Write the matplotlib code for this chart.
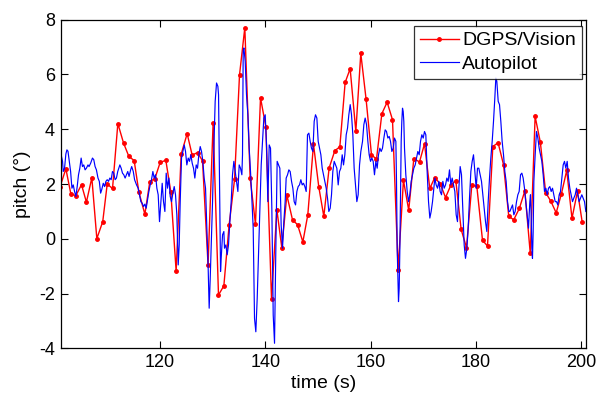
import matplotlib
matplotlib.use("Agg")
import matplotlib.pyplot as plt

plt.rcParams['font.family'] = ['Liberation Sans', 'DejaVu Sans']

# DGPS/Vision (red, markers)
red_t = [101.0, 102.1, 103.05, 104.0, 105.07, 106.0, 107.03, 107.98, 109.1, 109.95,
         110.96, 111.97, 113.05, 114.06, 115.07, 115.96, 117.1, 118.04, 119.0, 120.0,
         121.08, 122.03, 123.04, 123.99, 125.13, 126.08, 127.1, 128.05, 129.1, 130.06,
         131.08, 132.1, 133.1, 134.13, 135.07, 136.08, 137.09, 138.1, 139.06, 140.07,
         141.15, 142.16, 143.1, 144.06, 145.14, 146.09, 147.1, 148.04, 149.12, 150.13,
         151.08, 152.09, 153.17, 154.12, 155.13, 156.08, 157.16, 158.1, 159.11, 160.13,
         161.08, 162.1, 163.1, 164.12, 165.19, 166.2, 167.2, 168.17, 169.25, 170.2,
         171.2, 172.15, 173.2, 174.19, 175.2, 176.14, 177.15, 178.17, 179.18, 180.13,
         181.21, 182.16, 183.17, 184.17, 185.2, 186.2, 187.15, 188.2, 189.25, 190.28,
         191.2, 192.2, 193.2, 194.2, 195.2, 196.2, 197.2, 198.2, 199.25, 200.15]
red_v = [1.9, 2.56, 1.64, 1.58, 1.98, 1.34, 2.23, 0.01, 0.63, 2.0,
         1.84, 4.21, 3.50, 3.01, 2.86, 1.71, 0.90, 2.09, 2.20, 2.79,
         2.87, 1.71, -1.18, 3.09, 3.84, 3.06, 3.15, 2.85, -0.95, 4.24,
         -2.05, -1.71, 0.51, 2.17, 5.98, 7.71, 2.23, 0.54, 5.15, 4.09,
         -2.20, 1.07, -0.32, 1.60, 0.69, 0.52, -0.11, 0.88, 3.45, 1.89,
         0.82, 2.59, 3.22, 3.36, 5.71, 6.21, 3.92, 6.77, 5.09, 3.07,
         2.91, 4.57, 4.99, 4.35, -1.12, 2.14, 1.05, 2.93, 2.81, 3.47,
         1.84, 2.24, 2.0, 1.51, 1.96, 2.13, 0.35, -0.32, 1.96, 1.92,
         -0.05, -0.26, 3.37, 3.51, 2.71, 0.82, 0.7, 1.11, 1.75, -0.53,
         4.47, 3.52, 1.69, 1.37, 0.95, 1.65, 2.50, 0.75, 1.74, 0.6]

# Autopilot (blue line)
blue_t = [101.0, 101.2, 101.47, 101.6, 101.85, 102.1, 102.3, 102.5, 102.75, 103.0,
          103.25, 103.5, 103.75, 104.0, 104.25, 104.5, 104.75, 105.0, 105.25, 105.5,
          105.75, 106.0, 106.3, 106.5, 106.8, 107.15, 107.4, 107.65, 107.9, 108.2,
          108.45, 108.7, 108.9, 109.2, 109.45, 109.7, 109.95, 110.2, 110.45, 110.7,
          110.95, 111.2, 111.45, 111.7, 111.95, 112.35, 112.6, 112.85, 113.1, 113.35,
          113.6, 113.85, 114.1, 114.4, 114.6, 114.9, 115.15, 115.4,
          115.52, 115.83, 116.09, 116.34, 116.59, 116.85, 117.1, 117.35, 117.6, 117.86,
          118.11, 118.36, 118.62, 118.87, 119.12, 119.38, 119.63, 119.88, 120.14, 120.39,
          120.64, 120.9, 121.15, 121.4, 121.66, 121.91, 122.16, 122.42, 122.67, 122.92,
          123.17, 123.43, 123.62, 123.81, 124.06, 124.31, 124.57, 124.82, 125.07, 125.33,
          125.58, 125.83, 126.09, 126.34, 126.59, 126.85, 127.1, 127.35, 127.61, 127.86,
          128.11, 128.36, 128.62, 128.87, 129.12, 129.31, 129.5,
          129.69, 129.95, 130.2, 130.45, 130.71, 130.96, 131.09, 131.21, 131.34, 131.47,
          131.59, 131.85, 132.1, 132.22, 132.48, 132.73, 132.98, 133.24, 133.49, 133.74,
          134.0, 134.25, 134.5, 134.76, 135.01, 135.26, 135.52, 135.64, 135.77, 135.9,
          136.15, 136.4, 136.66, 136.91, 137.16, 137.41, 137.67, 137.92, 138.17, 138.43,
          138.68, 138.93, 139.19, 139.44, 139.69, 139.95, 140.2, 140.45, 140.71, 140.96,
          141.21, 141.47, 141.72, 141.97, 142.22, 142.48, 142.73, 142.98, 143.24, 143.49,
          143.74,
          143.93, 144.19, 144.44, 144.69, 144.95, 145.2, 145.45, 145.71, 145.96, 146.21,
          146.46, 146.72, 146.97, 147.22, 147.48, 147.73, 147.98, 148.24, 148.49, 148.74,
          149.0, 149.25, 149.5, 149.76, 150.01, 150.26, 150.52, 150.77, 151.02, 151.27,
          151.53, 151.78, 152.03, 152.29, 152.54, 152.79, 153.05, 153.3, 153.55, 153.81,
          154.06, 154.31, 154.57, 154.82, 155.07, 155.33, 155.58, 155.83, 156.09, 156.34,
          156.59, 156.84, 157.1, 157.35, 157.6, 157.86, 158.11,
          158.43, 158.68, 158.93, 159.19, 159.44, 159.69, 159.95, 160.2, 160.45, 160.7,
          160.96, 161.21, 161.46, 161.72, 161.97, 162.22, 162.48, 162.73, 162.98, 163.24,
          163.49, 163.74, 164.0, 164.25, 164.5, 164.76, 164.88, 165.01, 165.14, 165.26,
          165.39, 165.52, 165.64, 165.77, 165.89, 166.02, 166.15, 166.27, 166.4, 166.65,
          166.91, 167.16, 167.41, 167.67, 167.92, 168.17, 168.43, 168.68, 168.93, 169.19,
          169.44, 169.69, 169.95, 170.2, 170.45, 170.7, 170.96, 171.21, 171.46, 171.72,
          171.97,
          172.16, 172.41, 172.67, 172.92, 173.17, 173.43, 173.68, 173.93, 174.19, 174.44,
          174.69, 174.94, 175.2, 175.45, 175.7, 175.96, 176.21, 176.46, 176.72, 176.97,
          177.22, 177.48, 177.73, 177.98, 178.24, 178.49, 178.74, 179.0, 179.25, 179.5,
          179.76, 180.01, 180.26, 180.51, 180.77, 181.02, 181.27, 181.53, 181.78, 182.03,
          182.29, 182.54, 182.79, 183.05, 183.3, 183.55, 183.74, 183.93, 184.19, 184.44,
          184.69, 184.94, 185.2, 185.45, 185.7, 185.96, 186.21,
          186.4, 186.65, 186.91, 187.16, 187.41, 187.67, 187.92, 188.17, 188.43, 188.68,
          188.93, 189.18, 189.44, 189.69, 189.94, 190.2, 190.32, 190.45, 190.58, 190.7,
          190.83, 190.96, 191.21, 191.46, 191.72, 191.97, 192.22, 192.48, 192.73, 192.98,
          193.24, 193.49, 193.74, 193.99, 194.25, 194.5, 194.75, 195.01, 195.26, 195.51,
          195.77, 196.02, 196.27, 196.53, 196.78, 197.03, 197.29, 197.54, 197.79, 198.05,
          198.3, 198.55, 198.81, 199.06, 199.31, 199.56, 199.82, 200.07, 200.32, 200.58,
          200.83]
blue_v = [3.19, 3.07, 2.83, 2.46, 2.58, 3.1, 3.25, 3.2, 2.83, 2.46,
          1.85, 1.97, 1.73, 1.55, 1.91, 2.34, 2.58, 2.95, 2.64, 2.70,
          2.52, 2.58, 2.70, 2.64, 2.76, 2.95, 2.89, 2.64, 2.52, 2.22,
          2.10, 1.67, 1.79, 2.03, 1.91, 2.10, 2.16, 2.10, 2.22, 2.16,
          2.46, 2.40, 2.16, 2.22, 2.46, 2.70, 2.58, 2.40, 2.34, 2.22,
          2.34, 2.46, 2.28, 2.52, 2.64, 2.46, 2.16, 2.03,
          1.97, 1.85, 1.61, 1.36, 1.30, 1.18, 1.27, 1.12, 1.43, 1.73,
          1.97, 2.16, 2.46, 2.22, 2.34, 1.85, 1.61, 0.63, 1.36, 2.03,
          1.36, 1.0, 2.40, 1.85, 2.22, 1.55, 1.36, 1.67, 1.91, 1.61,
          0.88, -0.95, -0.22, 1.36, 2.95, 3.19, 3.43, 3.19, 2.70, 2.95,
          2.83, 3.07, 2.76, 2.58, 2.22, 2.70, 2.58, 3.07, 3.37, 3.19,
          2.83, 2.22, 1.85, 0.39, -1.07, -2.53, -1.5,
          -0.3, 1.36, 3.31, 5.02, 5.69, 5.57, 5.26, 3.31, 0.88, -1.19,
          -0.71, 0.15, 0.27, -0.34, -0.22, -0.58, -0.22, 0.63, 1.36, 2.34,
          2.83, 2.46, 2.10, 1.73, 2.70, 2.58, 2.34, 3.07, 6.85, 6.97,
          6.48, 5.26, 4.53, 3.31, 2.46, 1.49, 0.39, -2.90, -3.39, -2.17,
          -0.58, 0.88, 2.70, 3.56, 4.41, 4.53, 3.43, 1.36, 3.43, 3.31,
          1.12, -2.78, -3.81, -0.34, 2.83, 2.70, 2.58, 0.51, -0.34, 0.63,
          1.36,
          2.22, 2.34, 2.52, 2.46, 2.10, 1.85, 1.36, 1.24, 1.73, 1.91,
          1.97, 2.16, 1.97, 2.03, 1.91, 1.73, 3.80, 3.86, 3.56, 3.31,
          3.19, 4.29, 4.53, 4.41, 3.56, 3.31, 3.07, 2.58, 2.34, 2.10,
          1.85, 1.49, 1.00, 1.12, 1.61, 2.46, 2.83, 2.70, 2.58, 1.97,
          2.46, 2.58, 3.07, 2.70, 3.07, 3.80, 4.04, 4.53, 4.90, 4.53,
          3.80, 2.58, 1.97, 1.36, 1.61, 2.70, 3.19,
          3.56, 4.17, 4.41, 4.17, 3.56, 3.07, 2.83, 2.95, 2.83, 2.34,
          2.83, 2.58, 3.07, 3.31, 3.19, 3.31, 3.68, 3.98, 3.92, 3.68,
          3.74, 3.56, 3.19, 3.31, 3.68, 3.56, 2.10, -0.34, -1.32, -2.29,
          -1.80, -0.34, 1.49, 3.56, 4.29, 4.77, 4.65, 4.29, 3.31, 2.34,
          1.73, 1.36, 1.61, 2.10, 2.34, 2.58, 2.70, 2.95, 3.19, 3.07,
          3.56, 3.80, 3.68, 3.92, 3.80, 2.46, 1.36, 0.76, 1.00, 1.36,
          1.85,
          2.22, 1.97, 1.85, 2.10, 1.73, 1.61, 2.10, 1.85, 1.97, 2.22,
          2.10, 2.52, 1.97, 2.22, 1.97, 1.73, 0.88, 0.63, 1.85, 2.64,
          2.34, 1.00, -0.22, -0.71, -0.34, 0.39, 1.49, 2.46, 2.83, 3.07,
          2.46, 1.85, 2.58, 2.58, 2.34, 2.10, 1.61, 1.12, 0.63, 0.27,
          1.36, 2.22, 2.95, 3.56, 4.29, 5.14, 5.87, 5.75, 5.02, 4.90,
          4.29, 3.56, 3.07, 2.46, 2.10, 1.36, 1.00,
          1.00, 1.12, 1.24, 0.88, 1.00, 1.36, 1.61, 1.73, 2.34, 2.40,
          2.22, 1.85, 1.36, 0.88, 0.39, 1.36, 1.61, 0.88, -0.34, -0.71,
          0.27, 2.10, 3.07, 3.92, 3.68, 3.31, 3.07, 2.83, 2.34, 1.73,
          1.85, 1.61, 1.85, 1.91, 1.73, 1.85, 1.61, 1.36, 1.36, 1.24,
          1.61, 1.73, 2.22, 2.70, 2.83, 2.58, 2.83, 2.22, 1.85, 1.61,
          1.36, 1.49, 1.61, 1.85, 1.61, 1.36, 1.49, 1.61, 1.49, 1.36,
          1.00]

x_ticks = [120, 140, 160, 180, 200]
y_ticks = [-4, -2, 0, 2, 4, 6, 8]

fig = plt.figure(figsize=(6.0, 3.94), dpi=100)
ax = fig.add_axes([0.101, 0.1155, 0.876, 0.8345])

ax.plot(red_t, red_v, color='#ff0000', marker='.', markersize=5, linewidth=1.0,
        label='DGPS/Vision')
ax.plot(blue_t, blue_v, color='#0000ff', linewidth=0.85, label='Autopilot')

ax.set_xlim(101.1, 200.9)
ax.set_ylim(-4, 8)
ax.set_xticks(x_ticks)
ax.set_yticks(y_ticks)
ax.set_xticklabels([str(v) for v in x_ticks])
ax.set_yticklabels([str(v) for v in y_ticks])
ax.tick_params(direction='in', top=True, right=True, length=5, width=0.8,
               labelsize=13, pad=4)
for s in ax.spines.values():
    s.set_linewidth(0.9)
ax.set_xlabel('time (s)', fontsize=14, labelpad=3)
ax.set_ylabel('pitch (°)', fontsize=14, labelpad=6)

leg = ax.legend(loc='upper right', bbox_to_anchor=(0.992, 0.981), borderaxespad=0,
                fontsize=14, frameon=True, fancybox=False, handlelength=2.0,
                handletextpad=0.2, borderpad=0.3, labelspacing=0.3)
leg.get_frame().set_edgecolor('black')
leg.get_frame().set_linewidth(0.9)

fig.savefig('out.png', dpi=100)
